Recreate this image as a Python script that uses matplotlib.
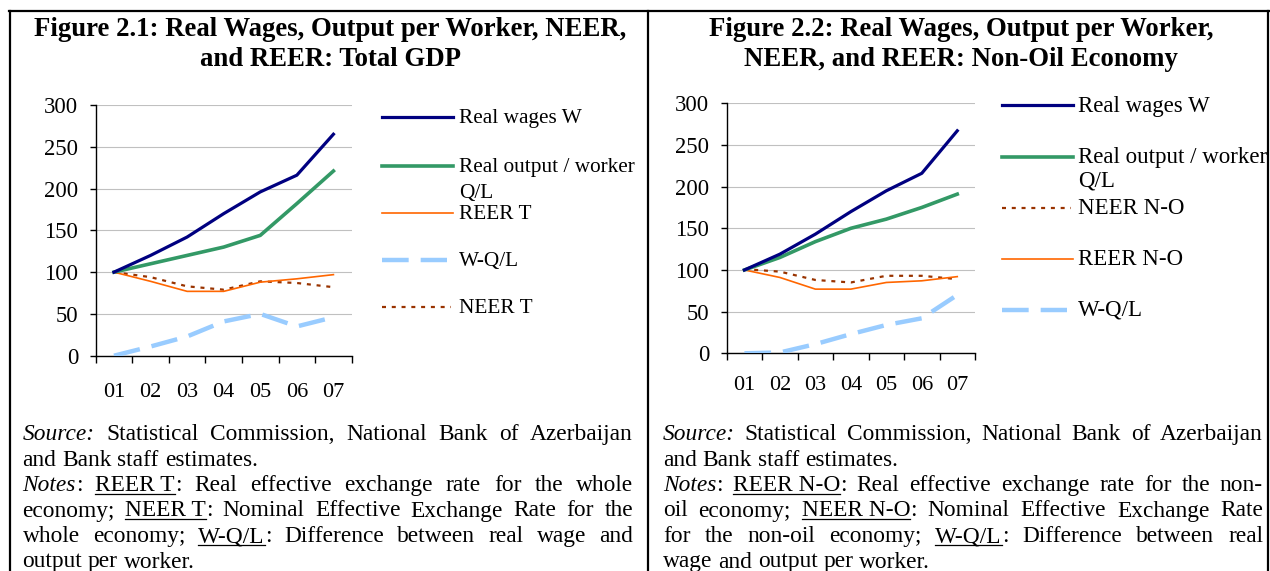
import re
import matplotlib
matplotlib.use('Agg')
import matplotlib.pyplot as plt
from matplotlib.lines import Line2D

plt.rcParams['font.family'] = ['Liberation Serif', 'DejaVu Serif']

W, H = 1270, 571

years = ['01', '02', '03', '04', '05', '06', '07']

# Figure 2.1: total GDP
wages_t = [100, 120, 142, 170, 196, 216, 265]
output_t = [100, 110, 120, 130, 144, 182, 221]
reer_t = [100, 89, 77, 77, 88, 92, 97]
neer_t = [100, 94, 83, 79, 89, 87, 82]
gap_t = [0, 11, 23, 41, 50, 35, 46]

# Figure 2.2: non-oil economy
wages_n = [100, 119, 143, 170, 195, 216, 267]
output_n = [100, 115, 134, 150, 161, 175, 191]
reer_n = [100, 91, 77, 77, 85, 87, 92]
neer_n = [101, 98, 88, 85, 93, 93, 89]
gap_n = [0, 1, 11, 23, 34, 42, 70]

left_notes = [
    ("*Source:* Statistical Commission, National Bank of Azerbaijan", True),
    ("and Bank staff estimates.", False),
    ("*Notes*: _REER T_: Real effective exchange rate for the whole", True),
    ("economy; _NEER T_: Nominal Effective Exchange Rate for the", True),
    ("whole economy; _W-Q/L_: Difference between real wage and", True),
    ("output per worker.", False),
]
right_notes = [
    ("*Source:* Statistical Commission, National Bank of Azerbaijan", True),
    ("and Bank staff estimates.", False),
    ("*Notes*: _REER N-O_: Real effective exchange rate for the non-", True),
    ("oil economy; _NEER N-O_: Nominal Effective Exchange Rate", True),
    ("for the non-oil economy; _W-Q/L_: Difference between real", True),
    ("wage and output per worker.", False),
]

styles = {
    'wage': dict(color='#000080', lw=2.3),
    'output': dict(color='#339966', lw=2.6),
    'reer': dict(color='#FF6600', lw=1.2),
    'neer': dict(color='#993300', lw=1.6, ls=(0, (1.8, 2.6))),
    'gap': dict(color='#99CCFF', lw=3.2, ls=(0, (6, 2.7))),
}

fig = plt.figure(figsize=(W / 100, H / 100), dpi=100)
renderer = fig.canvas.get_renderer()


def fx(x):
    return x / W


def fy(y):
    return 1 - y / H


def hline(x0, x1, y, **kw):
    fig.add_artist(Line2D([fx(x0), fx(x1)], [fy(y), fy(y)], transform=fig.transFigure, **kw))


def vline(x, y0, y1, **kw):
    fig.add_artist(Line2D([fx(x), fx(x)], [fy(y0), fy(y1)], transform=fig.transFigure, **kw))


def chart(box, series, xpad):
    x0, y0, x1, y1 = box
    ax = fig.add_axes([fx(x0), fy(y1), (x1 - x0) / W, (y1 - y0) / H])
    xs = [i + 0.5 for i in range(len(years))]
    for key, vals in series:
        ax.plot(xs, vals, **styles[key], zorder=3)
    ax.set_xlim(0, len(years))
    ax.set_ylim(0, 300)
    ax.set_yticks(range(0, 301, 50))
    ax.grid(axis='y', color='#c0c0c0', lw=0.8)
    ax.set_axisbelow(True)
    for s in ['top', 'right']:
        ax.spines[s].set_visible(False)
    ax.spines['left'].set_linewidth(1.0)
    ax.spines['bottom'].set_linewidth(1.0)
    ax.set_xticks(range(len(years) + 1))
    ax.set_xticklabels([])
    ax.set_xticks(xs, minor=True)
    ax.set_xticklabels(years, minor=True)
    ax.tick_params(axis='x', which='major', length=5, width=1.0)
    ax.tick_params(axis='x', which='minor', length=0, pad=xpad, labelsize=16)
    ax.tick_params(axis='y', length=4.3, width=1.0, pad=8.4, labelsize=16.3)
    return ax


def legend(x0, xt, items, fs):
    ends = {'gap': x0 + 65, 'neer': x0 + 69}
    for key, hy, labels in items:
        hline(x0, ends.get(key, x0 + 71), hy, **styles[key])
        for text, by in labels:
            fig.text(fx(xt), fy(by), text, fontsize=fs, va='baseline')


def width_of(s, italic, fs):
    t = fig.text(0, 0, s, fontsize=fs, fontstyle='italic' if italic else 'normal')
    w = t.get_window_extent(renderer).width
    t.remove()
    return w


def paragraph(lines, x0, x1, y0, step, fs):
    space = fs * 100 / 72 * 0.25
    for k, (line, justify) in enumerate(lines):
        y = y0 + k * step
        words = []
        for raw in re.findall(r'_[^_]+_\S*|\S+', line):
            pieces = []
            for p in re.findall(r'\*[^*]+\*|_[^_]+_|[^*_]+', raw):
                if p.startswith('*'):
                    pieces.append((p[1:-1], 'i'))
                elif p.startswith('_'):
                    pieces.append((p[1:-1], 'u'))
                else:
                    pieces.append((p, 'n'))
            words.append([(s, st, width_of(s, st == 'i', fs)) for s, st in pieces])
        total = sum(w for word in words for _, _, w in word)
        gap = (x1 - x0 - total) / (len(words) - 1) if justify else space
        x = x0
        for word in words:
            for s, st, w in word:
                fig.text(fx(x), fy(y), s, fontsize=fs, va='baseline', ha='left',
                         fontstyle='italic' if st == 'i' else 'normal')
                if st == 'u':
                    hline(x, x + w, y + 2.5, color='black', lw=0.9)
                x += w
            x += gap


# box borders
hline(8.5, 1270, 10.5, color='black', lw=1.6)
vline(9.5, 10.5, 571, color='black', lw=1.6)
vline(648, 10.5, 571, color='black', lw=1.6)
vline(1268, 10.5, 571, color='black', lw=1.6)

# titles
title_fs = 19.3
fig.text(fx(330.5), fy(36), "Figure 2.1: Real Wages, Output per Worker, NEER,",
         ha='center', va='baseline', fontsize=title_fs, fontweight='bold')
fig.text(fx(330.5), fy(66.5), "and REER: Total GDP",
         ha='center', va='baseline', fontsize=title_fs, fontweight='bold')
fig.text(fx(961), fy(36), "Figure 2.2: Real Wages, Output per Worker,",
         ha='center', va='baseline', fontsize=title_fs, fontweight='bold')
fig.text(fx(961), fy(66.5), "NEER, and REER: Non-Oil Economy",
         ha='center', va='baseline', fontsize=title_fs, fontweight='bold')

chart((95.7, 105, 351.7, 355.7),
      [('gap', gap_t), ('neer', neer_t), ('reer', reer_t), ('output', output_t), ('wage', wages_t)],
      xpad=20)
chart((726.7, 103.3, 975, 353.3),
      [('gap', gap_n), ('neer', neer_n), ('reer', reer_n), ('output', output_n), ('wage', wages_n)],
      xpad=16)

legend(381.7, 459, [
    ('wage', 117.3, [("Real wages W", 123.3)]),
    ('output', 165.7, [("Real output / worker", 171.7), ("Q/L", 197.5)]),
    ('reer', 213.3, [("REER T", 219.3)]),
    ('gap', 260, [("W-Q/L", 265.7)]),
    ('neer', 306.7, [("NEER T", 312.7)]),
], 15.3)
legend(1001.7, 1078, [
    ('wage', 105, [("Real wages W", 111.7)]),
    ('output', 156.7, [("Real output / worker", 162.7), ("Q/L", 187)]),
    ('neer', 207.7, [("NEER N-O", 214)]),
    ('reer', 259, [("REER N-O", 265)]),
    ('gap', 310, [("W-Q/L", 315.5)]),
], 16.5)

paragraph(left_notes, 22.5, 633, 440, 25.5, 16.8)
paragraph(right_notes, 663, 1263, 440, 25.5, 16.8)

fig.savefig('out.png', dpi=100)
